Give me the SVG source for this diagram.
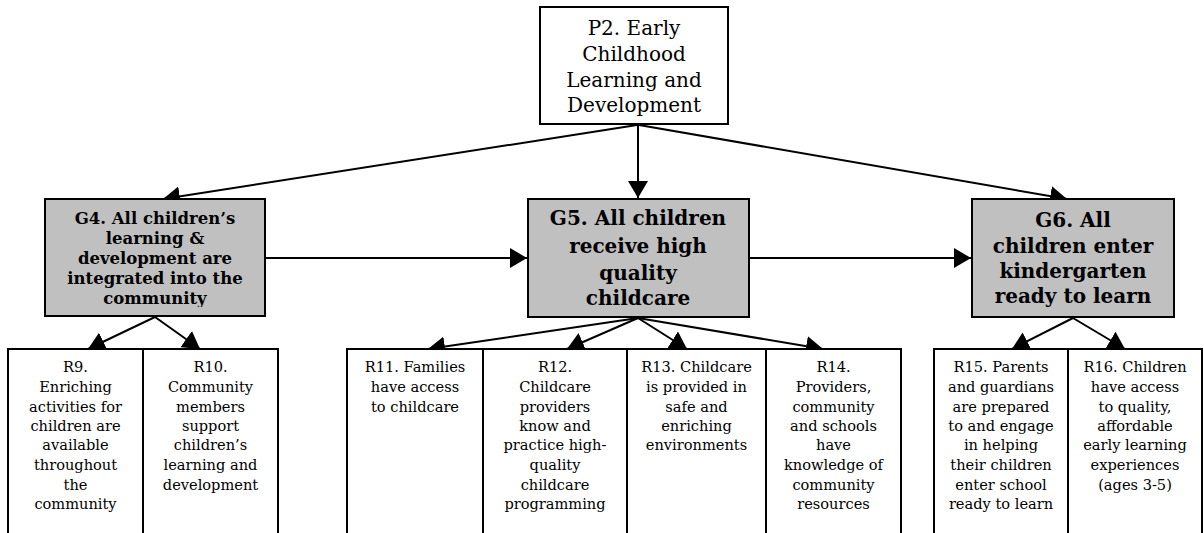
<svg xmlns="http://www.w3.org/2000/svg" width="1204" height="533" viewBox="0 0 1204 533">
  <style>
    .box { fill: #ffffff; stroke: #000000; stroke-width: 2; }
    .goal { fill: #c0c0c0; stroke: #000000; stroke-width: 2; }
    .t { font-family: "DejaVu Serif", "Liberation Serif", serif; fill: #000000; text-anchor: middle; }
    .top { font-size: 20px; }
    .g { font-size: 20px; font-weight: bold; }
    .g4 { font-size: 16.5px; font-weight: bold; }
    .r { font-size: 14.6px; }
    .edge { stroke: #000000; stroke-width: 2; fill: none; marker-end: url(#arrow); }
  </style>
  <defs>
    <marker id="arrow" markerUnits="userSpaceOnUse" markerWidth="18" markerHeight="20" refX="17" refY="10" orient="auto">
      <path d="M0,0 L17,10 L0,20 z" fill="#000000"/>
    </marker>
    <clipPath id="g4clip">
      <rect x="46" y="200" width="218" height="107"/>
    </clipPath>
  </defs>
  <rect width="1204" height="533" fill="#ffffff"/>

  <!-- connectors -->
  <g id="connectors">
    <line class="edge" x1="637" y1="125" x2="163" y2="199"/>
    <line class="edge" x1="638" y1="125" x2="638" y2="198"/>
    <line class="edge" x1="639" y1="125" x2="1067" y2="199"/>
    <line class="edge" x1="265" y1="258" x2="527" y2="258"/>
    <line class="edge" x1="749" y1="258" x2="971" y2="258"/>
    <line class="edge" x1="155" y1="317" x2="88" y2="349"/>
    <line class="edge" x1="155" y1="317" x2="200" y2="349"/>
    <line class="edge" x1="638" y1="318" x2="428" y2="349"/>
    <line class="edge" x1="638" y1="318" x2="567" y2="349"/>
    <line class="edge" x1="638" y1="318" x2="687" y2="349"/>
    <line class="edge" x1="638" y1="318" x2="823" y2="349"/>
    <line class="edge" x1="1073" y1="318" x2="1012" y2="349"/>
    <line class="edge" x1="1073" y1="318" x2="1125" y2="349"/>
  </g>

  <g id="P2">
    <rect class="box" x="540" y="7" width="188" height="117"/>
    <text class="t top" x="634" y="35">P2. Early</text>
    <text class="t top" x="634" y="61">Childhood</text>
    <text class="t top" x="634" y="87">Learning and</text>
    <text class="t top" x="634" y="112">Development</text>
  </g>

  <g id="G4">
    <rect class="goal" x="45" y="199" width="220" height="117"/>
    <g clip-path="url(#g4clip)">
      <text class="t g4" x="155" y="224">G4. All children’s</text>
      <text class="t g4" x="155" y="244">learning &amp;</text>
      <text class="t g4" x="155" y="264">development are</text>
      <text class="t g4" x="155" y="284">integrated into the</text>
      <text class="t g4" x="155" y="304">community</text>
    </g>
  </g>

  <g id="G5">
    <rect class="goal" x="528" y="199" width="221" height="118"/>
    <text class="t g" x="638" y="225">G5. All children</text>
    <text class="t g" x="638" y="253">receive high</text>
    <text class="t g" x="638" y="280">quality</text>
    <text class="t g" x="638" y="305">childcare</text>
  </g>

  <g id="G6">
    <rect class="goal" x="972" y="199" width="202" height="118"/>
    <text class="t g" x="1073" y="227">G6. All</text>
    <text class="t g" x="1073" y="253">children enter</text>
    <text class="t g" x="1073" y="278">kindergarten</text>
    <text class="t g" x="1073" y="303">ready to learn</text>
  </g>

  <g id="R9">
    <rect class="box" x="8" y="349" width="135" height="200"/>
    <text class="t r" x="75.5" y="372">R9.</text>
    <text class="t r" x="75.5" y="392">Enriching</text>
    <text class="t r" x="75.5" y="412">activities for</text>
    <text class="t r" x="75.5" y="431">children are</text>
    <text class="t r" x="75.5" y="450">available</text>
    <text class="t r" x="75.5" y="470">throughout</text>
    <text class="t r" x="75.5" y="490">the</text>
    <text class="t r" x="75.5" y="509">community</text>
  </g>

  <g id="R10">
    <rect class="box" x="143" y="349" width="135" height="200"/>
    <text class="t r" x="210.5" y="372">R10.</text>
    <text class="t r" x="210.5" y="392">Community</text>
    <text class="t r" x="210.5" y="412">members</text>
    <text class="t r" x="210.5" y="431">support</text>
    <text class="t r" x="210.5" y="450">children’s</text>
    <text class="t r" x="210.5" y="470">learning and</text>
    <text class="t r" x="210.5" y="490">development</text>
  </g>

  <g id="R11">
    <rect class="box" x="347" y="349" width="136" height="200"/>
    <text class="t r" x="415" y="372">R11. Families</text>
    <text class="t r" x="415" y="392">have access</text>
    <text class="t r" x="415" y="412">to childcare</text>
  </g>

  <g id="R12">
    <rect class="box" x="483" y="349" width="144" height="200"/>
    <text class="t r" x="555" y="372">R12.</text>
    <text class="t r" x="555" y="392">Childcare</text>
    <text class="t r" x="555" y="412">providers</text>
    <text class="t r" x="555" y="431">know and</text>
    <text class="t r" x="555" y="450">practice high-</text>
    <text class="t r" x="555" y="470">quality</text>
    <text class="t r" x="555" y="490">childcare</text>
    <text class="t r" x="555" y="509">programming</text>
  </g>

  <g id="R13">
    <rect class="box" x="627" y="349" width="139" height="200"/>
    <text class="t r" x="696.5" y="372">R13. Childcare</text>
    <text class="t r" x="696.5" y="392">is provided in</text>
    <text class="t r" x="696.5" y="412">safe and</text>
    <text class="t r" x="696.5" y="431">enriching</text>
    <text class="t r" x="696.5" y="450">environments</text>
  </g>

  <g id="R14">
    <rect class="box" x="766" y="349" width="135" height="200"/>
    <text class="t r" x="833.5" y="372">R14.</text>
    <text class="t r" x="833.5" y="392">Providers,</text>
    <text class="t r" x="833.5" y="412">community</text>
    <text class="t r" x="833.5" y="431">and schools</text>
    <text class="t r" x="833.5" y="450">have</text>
    <text class="t r" x="833.5" y="470">knowledge of</text>
    <text class="t r" x="833.5" y="490">community</text>
    <text class="t r" x="833.5" y="509">resources</text>
  </g>

  <g id="R15">
    <rect class="box" x="934" y="349" width="134" height="200"/>
    <text class="t r" x="1001" y="372">R15. Parents</text>
    <text class="t r" x="1001" y="392">and guardians</text>
    <text class="t r" x="1001" y="412">are prepared</text>
    <text class="t r" x="1001" y="431">to and engage</text>
    <text class="t r" x="1001" y="450">in helping</text>
    <text class="t r" x="1001" y="470">their children</text>
    <text class="t r" x="1001" y="490">enter school</text>
    <text class="t r" x="1001" y="509">ready to learn</text>
  </g>

  <g id="R16">
    <rect class="box" x="1068" y="349" width="134" height="200"/>
    <text class="t r" x="1135" y="372">R16. Children</text>
    <text class="t r" x="1135" y="392">have access</text>
    <text class="t r" x="1135" y="412">to quality,</text>
    <text class="t r" x="1135" y="431">affordable</text>
    <text class="t r" x="1135" y="450">early learning</text>
    <text class="t r" x="1135" y="470">experiences</text>
    <text class="t r" x="1135" y="490">(ages 3-5)</text>
  </g>
</svg>
